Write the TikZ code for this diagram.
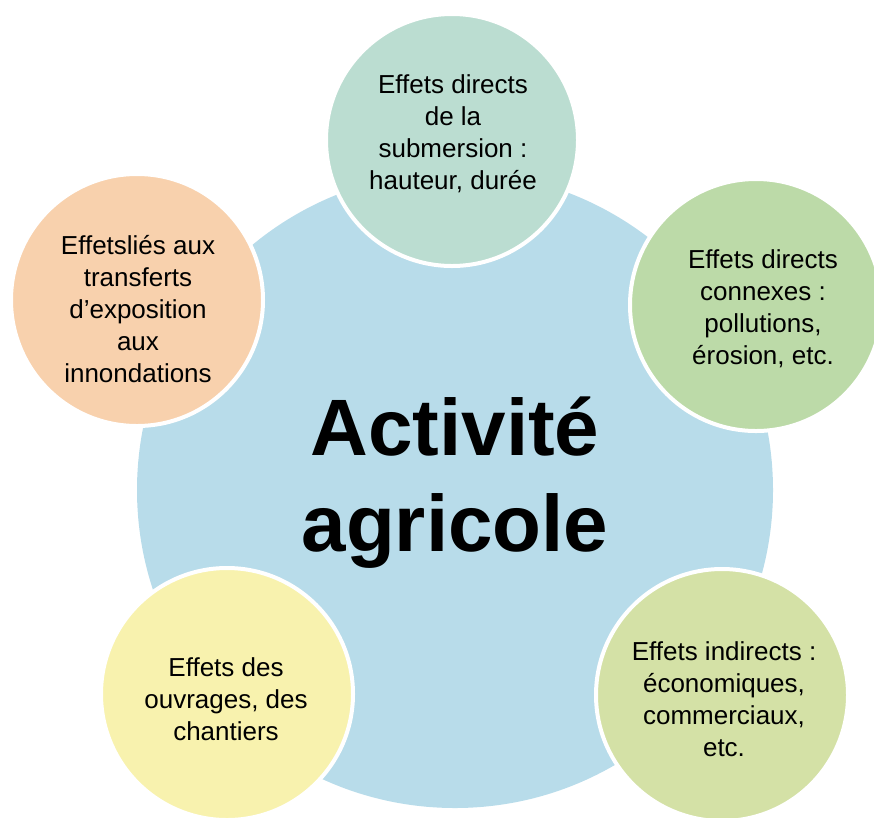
\documentclass[tikz,border=0pt]{standalone}
\usepackage{fontspec}
\setmainfont{Liberation Sans}
\definecolor{cblue}{HTML}{B8DCEA}
\definecolor{cmint}{HTML}{BBDDD1}
\definecolor{cgreen}{HTML}{BCDAA8}
\definecolor{colive}{HTML}{D4E1A6}
\definecolor{cyellow}{HTML}{F8F2AE}
\definecolor{corange}{HTML}{F8D1AD}
\begin{document}
\begin{tikzpicture}[x=1pt,y=-1pt,
  sat/.style={circle,draw=white,line width=4pt,minimum size=252pt,inner sep=0pt},
  lab/.style={align=center,font=\fontsize{26}{32}\selectfont,inner sep=0pt}]
\useasboundingbox (0,0) rectangle (874,817);
\clip (0,0) rectangle (874,817);
\node[circle,fill=cblue,minimum size=636pt,inner sep=0pt] (hub) at (455,490) {};
\node[sat,fill=cmint] (top) at (452,140) {};
\node[sat,fill=cgreen] (right) at (756,305) {};
\node[sat,fill=colive] (bright) at (722,695) {};
\node[sat,fill=cyellow] (bleft) at (227,694) {};
\node[sat,fill=corange] (left) at (137,300) {};
\node[align=center,font=\fontsize{80}{96}\selectfont\bfseries,inner sep=0pt] (hubt) at (455,483) {Activité\\agricole};
\node[lab] (topt) at (453,134) {Effets directs\\de la\\submersion :\\hauteur, durée};
\node[lab] (rightt) at (763,309) {Effets directs\\connexes :\\pollutions,\\érosion, etc.};
\node[lab] (brightt) at (724,699) {Effets indirects :\\économiques,\\commerciaux,\\etc.};
\node[lab] (bleftt) at (226,699) {Effets des\\ouvrages, des\\chantiers};
\node[lab] (leftt) at (138,309) {Effetsliés aux\\transferts\\d’exposition\\aux\\innondations};
\end{tikzpicture}
\end{document}
